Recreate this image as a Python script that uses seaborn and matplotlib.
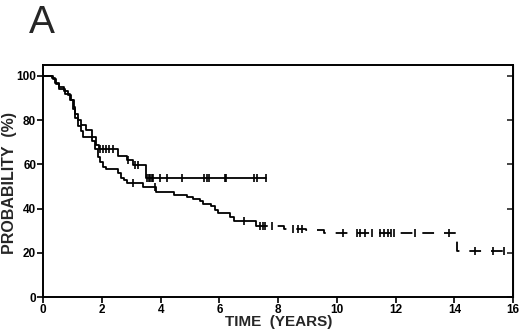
import numpy as np
import pandas as pd
import matplotlib
matplotlib.use("Agg")
import matplotlib.pyplot as plt
import seaborn as sns

sns.set_style("ticks")
plt.rcParams["font.family"] = ["Liberation Sans", "DejaVu Sans"]

# Kaplan-Meier style curves (years, % surviving after each step)
short_times = [0, 0.3, 0.4, 0.55, 0.7, 0.85, 0.95, 1.05, 1.1, 1.2, 1.3, 1.45, 1.65,
               1.8, 1.9, 2.55, 2.85, 3.05, 3.5, 7.6]
short_surv = [100, 99, 97, 95, 93, 91.5, 89, 86, 83, 80, 78, 75.5, 72.5,
              69, 67, 64, 62, 59.7, 54, 54]
short_censored = [1.94, 2.05, 2.15, 2.25, 2.39, 2.9, 3.13, 3.24, 3.53, 3.6, 3.64,
                  3.70, 3.75, 3.98, 4.21, 4.72, 5.46, 5.57, 5.63, 6.2, 6.24,
                  7.16, 7.27, 7.6]

long_times = [0, 0.35, 0.45, 0.55, 0.75, 0.9, 1.0, 1.1, 1.2, 1.3, 1.35, 1.65, 1.75,
              1.85, 1.95, 2.05, 2.15, 2.55, 2.65, 2.75, 2.85, 3.4, 3.85, 4.45, 4.9,
              5.1, 5.35, 5.45, 5.7, 5.85, 5.95, 6.35, 6.5, 7.25, 8.2, 8.95, 9.55,
              14.1, 15.67]
long_surv = [100, 98.5, 96.5, 94, 92, 89, 85, 81, 77.5, 75, 72.5, 70.5, 67,
             63.5, 61, 59, 58, 56, 54, 53, 51.5, 50, 47.5, 46.2, 45.4,
             44.5, 43.5, 42, 41, 39.5, 38, 36, 34.5, 32, 31, 30.3, 28.8,
             21, 21]
long_censored = [3.07, 3.8, 6.82, 7.39, 7.47, 7.56, 7.79, 8.52, 8.68, 8.8, 10.2,
                 10.68, 10.8, 10.96, 11.19, 11.47, 11.59, 11.75, 11.83, 11.93,
                 12.66, 13.82, 14.7, 15.3, 15.67]

x_ticks = [0, 2, 4, 6, 8, 10, 12, 14, 16]
y_ticks = [0, 20, 40, 60, 80, 100]


def step_value(times, surv, t):
    i = np.searchsorted(times, t, side="right") - 1
    return surv[max(i, 0)]


fig = plt.figure(figsize=(5.2, 3.33), dpi=100)
ax = fig.add_axes([0.083, 0.108, 0.904, 0.697])

lw = 1.3
short_df = pd.DataFrame({"t": short_times, "s": short_surv})
sns.lineplot(data=short_df, x="t", y="s", drawstyle="steps-post", color="black",
             lw=lw, estimator=None, ax=ax)

# lower curve: solid early part, dashed after ~7 years
k = long_times.index(7.25)
solid_df = pd.DataFrame({"t": long_times[:k + 1], "s": long_surv[:k + 1]})
dash_df = pd.DataFrame({"t": long_times[k:], "s": long_surv[k:]})
sns.lineplot(data=solid_df, x="t", y="s", drawstyle="steps-post", color="black",
             lw=lw, estimator=None, ax=ax)
sns.lineplot(data=dash_df, x="t", y="s", drawstyle="steps-post", color="black",
             lw=lw, estimator=None, ax=ax)
ax.lines[-1].set_linestyle((0, (6.5, 5.5)))

# censor ticks
cens_short = pd.DataFrame({"t": short_censored,
                           "s": [step_value(short_times, short_surv, t) for t in short_censored]})
cens_long = pd.DataFrame({"t": long_censored,
                          "s": [step_value(long_times, long_surv, t) for t in long_censored]})
for d in (cens_short, cens_long):
    sns.scatterplot(data=d, x="t", y="s", marker="|", s=36, color="black",
                    linewidth=1.2, ax=ax, zorder=3)

ax.set_xlim(0, 16)
ax.set_ylim(0, 105)
ax.set_xticks(x_ticks)
ax.set_yticks(y_ticks)
ax.set_xticklabels([str(v) for v in x_ticks], fontsize=8.5, fontweight="bold")
ax.set_yticklabels([str(v) for v in y_ticks], fontsize=8.5, fontweight="bold")
ax.tick_params(direction="out", length=4, width=1.2, pad=1, colors="black")
for sp in ax.spines.values():
    sp.set_linewidth(1.4)
    sp.set_color("black")
    sp.set_visible(True)

right = ax.secondary_yaxis("right")
right.set_yticks(y_ticks)
right.set_yticklabels([])
right.tick_params(direction="in", length=4, width=1.2)

ax.set_xlabel("TIME  (YEARS)", fontsize=11, fontweight="bold", labelpad=-1)
ax.set_ylabel("")
fig.text(0.004, 0.45, "PROBABILITY  (%)", fontsize=11.5, fontweight="bold",
         rotation=90, ha="left", va="center")

fig.text(0.055, 0.93, "A", fontsize=28, ha="left", va="center")

fig.savefig("out.png", dpi=100)
